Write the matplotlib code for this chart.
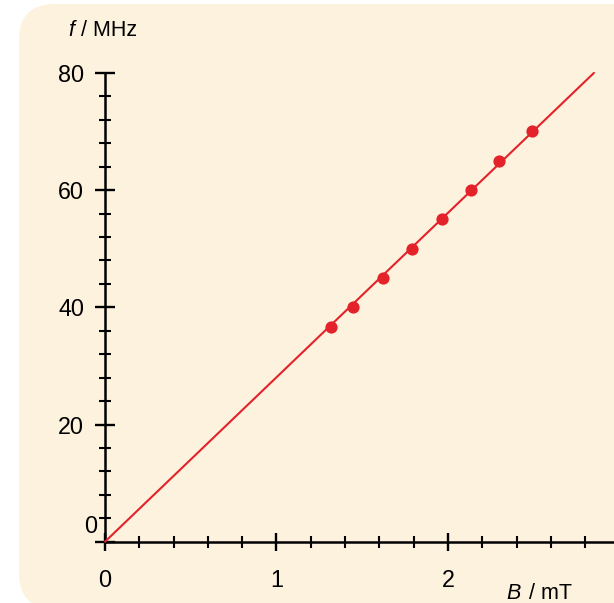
import numpy as np
import matplotlib
matplotlib.use('Agg')
import matplotlib.pyplot as plt
from matplotlib.patches import FancyBboxPatch
from matplotlib.transforms import IdentityTransform

plt.rcParams['font.family'] = ['Liberation Sans', 'DejaVu Sans']
plt.rcParams['mathtext.fontset'] = 'custom'
plt.rcParams['mathtext.it'] = 'Liberation Sans:italic'
plt.rcParams['mathtext.rm'] = 'Liberation Sans'

# measured points: magnetic field B in mT, frequency f in MHz
b_mt = [1.316, 1.448, 1.619, 1.788, 1.963, 2.132, 2.297, 2.492]
f_mhz = [36.6, 40, 45, 50, 55, 60, 65, 70]
# fitted line through origin
fit_b = [0, 2.851]
fit_f = [0, 80]

x_ticks = [0, 1, 2]
x_labels = ['0', '1', '2']
y_ticks = [0, 20, 40, 60, 80]
y_labels = ['', '20', '40', '60', '80']

W, H = 614, 603
fig = plt.figure(figsize=(W / 100, H / 100), dpi=100)
fig.patch.set_facecolor('white')

# cream rounded panel
bg = FancyBboxPatch((19, -6), 700, 605, boxstyle='round,pad=0,rounding_size=36',
                    transform=IdentityTransform(), facecolor='#fdf2dd',
                    edgecolor='none', zorder=-5)
fig.patches.append(bg)

# axes placement: origin at px (105, 541.7), 171.5 px per mT, 5.86 px per MHz
px_x, px_y = 171.5, 5.86
x0, x1 = -0.1, (W - 105) / px_x
y0, y1 = -3, 82
left = (105 + x0 * px_x) / W
bottom = (H - 541.7 - (-y0) * px_y) / H
ax = fig.add_axes([left, bottom, (x1 - x0) * px_x / W, (y1 - y0) * px_y / H])
ax.set_zorder(2)
ax.patch.set_visible(False)
ax.set_xlim(x0, x1)
ax.set_ylim(y0, y1)

red = '#e3222a'
ax.plot(fit_b, fit_f, color=red, lw=1.5, solid_capstyle='round', zorder=3)
ax.plot(b_mt, f_mhz, 'o', color=red, ms=8.8, mec='none', zorder=4)

for s in ['top', 'right']:
    ax.spines[s].set_visible(False)
ax.spines['left'].set_position(('data', 0))
ax.spines['bottom'].set_position(('data', 0))
ax.spines['left'].set_bounds(0, 80)
ax.spines['bottom'].set_bounds(0, x1)
for s in ['left', 'bottom']:
    ax.spines[s].set_linewidth(1.8)

ax.set_xticks(x_ticks)
ax.set_xticklabels(x_labels)
ax.set_xticks(np.arange(0.2, 2.9, 0.2), minor=True)
ax.set_yticks(y_ticks)
ax.set_yticklabels(y_labels)
ax.set_yticks(np.arange(4, 80, 4), minor=True)

ax.tick_params(axis='x', which='major', direction='inout', length=13, width=1.7,
               labelsize=16.8, pad=13.5)
ax.tick_params(axis='x', which='minor', direction='inout', length=8.6, width=1.5)
ax.tick_params(axis='y', which='major', direction='inout', length=14, width=1.7,
               labelsize=16.8, pad=8)
ax.tick_params(axis='y', which='minor', direction='inout', length=8, width=1.5)

ax.text(-0.045, 2.6, '0', ha='right', va='center', fontsize=16.8)

# axis titles, italic symbol plus unit
fig.text(68 / W, 1 - 36 / H, r'$f$', fontsize=15.5, va='baseline', ha='left')
fig.text(81 / W, 1 - 36 / H, '/ MHz', fontsize=15.5, va='baseline', ha='left')
fig.text(506.5 / W, 4 / H, r'$B$', fontsize=15.5, va='baseline', ha='left')
fig.text(529 / W, 4 / H, '/ mT', fontsize=15.5, va='baseline', ha='left')

fig.savefig('out.png', dpi=100)
